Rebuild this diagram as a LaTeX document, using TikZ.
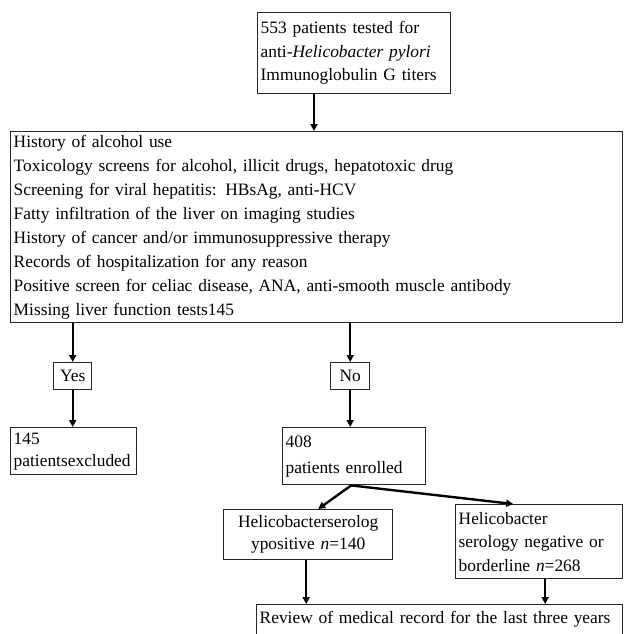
\documentclass[tikz,border=0pt]{standalone}
\usepackage{fontspec}
\setmainfont{Liberation Serif}
\usetikzlibrary{arrows.meta}
\begin{document}
\begin{tikzpicture}[x=1pt,y=-1pt,
  box/.style={draw=black!85,line width=1.4pt,anchor=north west,inner xsep=3pt,inner ysep=0pt,
    font=\fontsize{17.4}{23.5}\selectfont,align=left},
  arr/.style={draw=black,line width=2.4pt,-{Triangle[length=7pt,width=7pt]}}]
\useasboundingbox (0,0) rectangle (625,634);
\node[box,text width=187pt,minimum height=81pt] (top) at (257,12)
  {553 patients tested for\\anti-\textit{Helicobacter pylori}\\Immunoglobulin G titers};
\node[box,text width=606pt,minimum height=191pt,font=\fontsize{17.4}{24}\selectfont] (big) at (10,131)
  {History of alcohol use\\
   Toxicology screens for alcohol, illicit drugs, hepatotoxic drug\\
   Screening for viral hepatitis: HBsAg, anti-HCV\\
   Fatty infiltration of the liver on imaging studies\\
   History of cancer and/or immunosuppressive therapy\\
   Records of hospitalization for any reason\\
   Positive screen for celiac disease, ANA, anti-smooth muscle antibody\\
   Missing liver function tests145};
\node[box,text width=32pt,minimum height=27pt,align=center] (yes) at (53,362) {Yes};
\node[box,text width=33pt,minimum height=27pt,align=center] (no) at (330,362) {No};
\node[box,text width=120pt,minimum height=47pt,font=\fontsize{17.4}{22}\selectfont] (ex) at (10,427) {145\\patientsexcluded};
\node[box,text width=137pt,minimum height=57pt,font=\fontsize{17.4}{26}\selectfont] (enr) at (282,427) {408\\patients enrolled};
\node[box,text width=163pt,minimum height=50pt,align=center,font=\fontsize{17.4}{22}\selectfont] (pos) at (223,509)
  {Helicobacterserolog\\ypositive \textit{n}=140};
\node[box,text width=161pt,minimum height=74pt] (neg) at (455,504)
  {Helicobacter\\serology negative or\\borderline \textit{n}=268};
\node[box,text width=360pt,minimum height=30pt] (rev) at (256,604)
  {Review of medical record for the last three years};
\coordinate (c1) at (314,0);
\draw[arr] (c1 |- top.south) -- (c1 |- big.north);
\draw[arr] (yes.north |- big.south) -- (yes.north);
\draw[arr] (no.north |- big.south) -- (no.north);
\draw[arr] (yes.south) -- (yes.south |- ex.north);
\draw[arr] (no.south) -- (no.south |- enr.north);
\draw[arr] ([xshift=-3pt]enr.south) -- ([xshift=10pt]pos.north);
\draw[arr] ([xshift=-3pt]enr.south) -- ([xshift=-26pt]neg.north);
\draw[arr] ([xshift=-2pt]pos.south) -- ([xshift=-2pt]pos.south |- rev.north);
\draw[arr] ([xshift=6pt]neg.south) -- ([xshift=6pt]neg.south |- rev.north);
\end{tikzpicture}
\end{document}
